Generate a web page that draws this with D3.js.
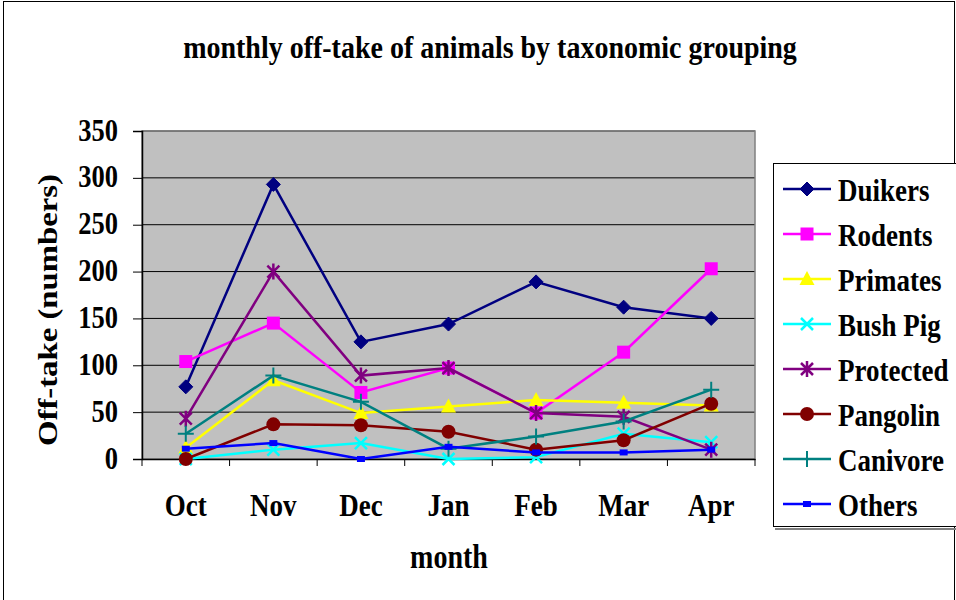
<!DOCTYPE html>
<html><head><meta charset="utf-8">
<script src="https://cdn.jsdelivr.net/npm/d3@7"></script>
<style>body{margin:0;background:#fff}svg{display:block;font-family:"Liberation Serif","Times New Roman",serif;font-weight:bold}</style>
</head><body><svg id="c" width="956" height="600"></svg>
<script>
const months = ["Oct","Nov","Dec","Jan","Feb","Mar","Apr"];
const yTicks = [0,50,100,150,200,250,300,350];
const seriesNames = ["Duikers","Rodents","Primates","Bush Pig","Protected","Pangolin","Canivore","Others"];
const duikers   = [77,293,125,144,189,162,150];
const rodents   = [104,145,71,97,49,114,203];
const primates  = [12,84,49,56,63,60,57];
const bushPig   = [0,10,17,0,2,27,18];
const protectedA= [43,200,89,97,49,45,10];
const pangolin  = [0,37,36,29,10,20,59];
const canivore  = [27,89,61,11,24,40,74];
const others    = [11,17,0,13,7,7,10];
const colors = ["#000080","#ff00ff","#ffff00","#00ffff","#800080","#800000","#008080","#0000ff"];
const markers = ["diamond","square","triangle","x","star","circle","plus","smallsquare"];
const allValues = [duikers,rodents,primates,bushPig,protectedA,pangolin,canivore,others];

const svg = d3.select("#c");
const SY = 1.17;
function label(g,x,y,txt,size,anchor,sy,rot){
  return g.append("text")
    .attr("transform",`translate(${x},${y})` + (rot?` rotate(${rot})`:"") + (rot?` scale(${sy},1)`:` scale(1,${sy})`))
    .attr("text-anchor",anchor||"start").attr("font-size",size).attr("fill","#000").text(txt);
}
// outer chart border
svg.append("rect").attr("x",3.5).attr("y",1.5).attr("width",951).attr("height",610).attr("fill","none").attr("stroke","#000").attr("stroke-width",1);

const L=142,R=755,T=131,B=459;
const x = d3.scaleBand().domain(months).range([L,R]);
const y = d3.scaleLinear().domain([0,350]).range([B,T]);

svg.append("rect").attr("x",L).attr("y",T).attr("width",R-L).attr("height",B-T).attr("fill","#c0c0c0");
svg.append("g").selectAll("line").data(yTicks.slice(1)).join("line")
  .attr("x1",L).attr("x2",R).attr("y1",d=>y(d)).attr("y2",d=>y(d)).attr("stroke","#000").attr("stroke-width",1);
svg.append("rect").attr("x",L).attr("y",T).attr("width",R-L).attr("height",B-T).attr("fill","none").attr("stroke","#808080").attr("stroke-width",1.5);

// axes
const ya = svg.append("g").attr("transform",`translate(${L},0)`)
  .call(d3.axisLeft(y).tickValues(yTicks).tickSize(9).tickFormat(""));
ya.select(".domain").attr("stroke","#000").attr("stroke-width",1.5);
ya.selectAll(".tick line").attr("stroke","#000");
yTicks.forEach(t=>label(svg,118,y(t)+9.5,String(t),26.5,"end",SY));

const xa = svg.append("g").attr("transform",`translate(0,${B})`)
  .call(d3.axisBottom(x).tickSize(0).tickFormat(""));
xa.select(".domain").attr("stroke","#000").attr("stroke-width",1.5);
months.forEach(m=>label(svg,x(m)+x.bandwidth()/2,516,m,27,"middle",SY));
// category boundary ticks
svg.append("g").selectAll("line").data(months.concat(["end"])).join("line")
  .attr("x1",(d,i)=>L+i*x.step()).attr("x2",(d,i)=>L+i*x.step()).attr("y1",B).attr("y2",B+7).attr("stroke","#000");

label(svg,490,58,"monthly off-take of animals by taxonomic grouping",28,"middle",1.1);
label(svg,449,568,"month",28,"middle",SY);
label(svg,57,310,"Off-take (numbers)",28,"middle",SY,-90);

function drawMarker(g,type,color){
  if(type==="diamond") g.append("path").attr("d","M0,-7L7,0L0,7L-7,0Z").attr("fill",color).attr("stroke",color);
  else if(type==="square") g.append("rect").attr("x",-6.5).attr("y",-6.5).attr("width",13).attr("height",13).attr("fill",color);
  else if(type==="triangle") g.append("path").attr("d","M0,-8L7.5,6L-7.5,6Z").attr("fill",color);
  else if(type==="x") g.append("path").attr("d","M-6,-6L6,6M-6,6L6,-6").attr("stroke",color).attr("stroke-width",2.5);
  else if(type==="star") g.append("path").attr("d","M-6,-6L6,6M-6,6L6,-6M0,-8L0,8").attr("stroke",color).attr("stroke-width",2.5);
  else if(type==="circle") g.append("circle").attr("r",7).attr("fill",color);
  else if(type==="plus") g.append("path").attr("d","M-8,0L8,0M0,-8L0,8").attr("stroke",color).attr("stroke-width",2);
  else if(type==="smallsquare") g.append("rect").attr("x",-4).attr("y",-3).attr("width",8).attr("height",6).attr("fill",color);
}

const line = d3.line().x((d,i)=>x(months[i])+x.bandwidth()/2).y(d=>y(d));
allValues.forEach((vals,si)=>{
  const g = svg.append("g");
  g.append("path").attr("d",line(vals)).attr("fill","none").attr("stroke",colors[si]).attr("stroke-width",2.5);
  vals.forEach((v,i)=>{
    const m = g.append("g").attr("transform",`translate(${x(months[i])+x.bandwidth()/2},${y(v)})`);
    drawMarker(m,markers[si],colors[si]);
  });
});

// legend
const lg = svg.append("g");
lg.append("rect").attr("x",775).attr("y",528).attr("width",190).attr("height",2).attr("fill","#808080");
lg.append("rect").attr("x",773.5).attr("y",163.5).attr("width",200).attr("height",363).attr("fill","#fff").attr("stroke","#000");
seriesNames.forEach((n,i)=>{
  const yy = 189 + i*45;
  lg.append("line").attr("x1",783).attr("x2",831).attr("y1",yy).attr("y2",yy).attr("stroke",colors[i]).attr("stroke-width",2.5);
  const m = lg.append("g").attr("transform",`translate(807,${yy})`);
  drawMarker(m,markers[i],colors[i]);
  label(lg,838,yy+12,n,27,"start",SY);
});
</script></body></html>
